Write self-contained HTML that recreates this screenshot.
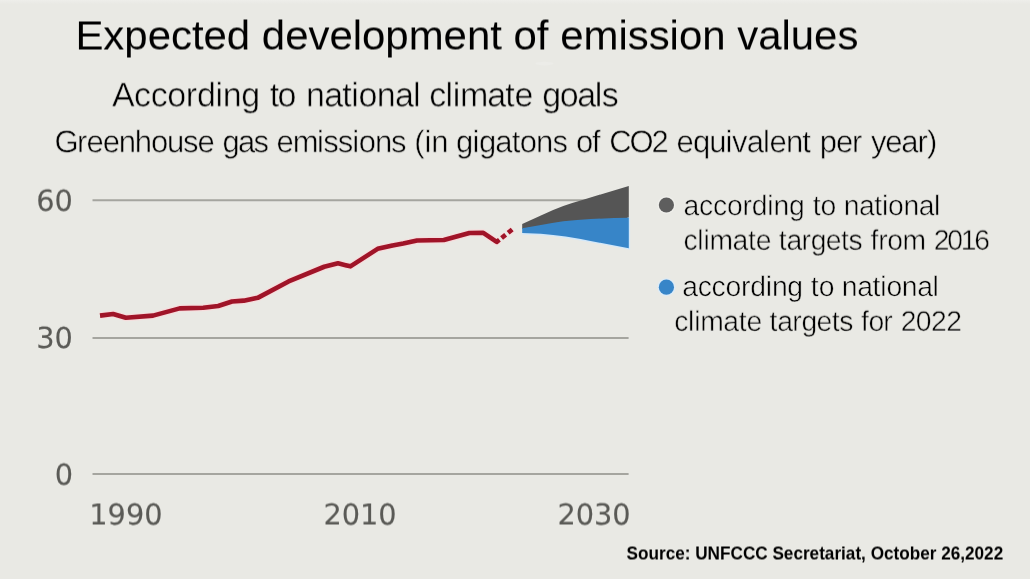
<!DOCTYPE html>
<html lang="en">
<head>
<meta charset="utf-8">
<title>Expected development of emission values</title>
<style>
  html, body { margin: 0; padding: 0; background: #e9e9e4; }
  body { width: 1030px; height: 579px; overflow: hidden; position: relative;
         font-family: "Liberation Sans", sans-serif; }
  svg { position: absolute; left: 0; top: 0; display: block; }
  text { font-family: "Liberation Sans", sans-serif; }
  .title { font-size: 41.3px; fill: #000; }
  .light { fill:#000; stroke:#e9e9e4; paint-order:fill stroke; text-rendering:geometricPrecision; }
  .sub { font-size: 34.0px; stroke-width: 0.5px; }
  .unit { font-size: 31.0px; stroke-width: 0.5px; }
  .leg { font-size: 28.3px; stroke-width: 0.5px; }
  .axis { font-family: "DejaVu Sans", sans-serif; font-size: 28.8px; fill: #5a5a56; stroke: #5a5a56; stroke-width: 0.12px; text-rendering: geometricPrecision; }
  .src { font-size: 17.9px; font-weight: 700; fill: #000; }
  .grid { stroke: #a5a59f; stroke-width: 2; }
</style>
</head>
<body>
<svg width="1030" height="579" viewBox="0 0 1030 579">
  <defs>
    <filter id="soft" filterUnits="userSpaceOnUse" x="0" y="0" width="1030" height="579" color-interpolation-filters="sRGB"><feGaussianBlur stdDeviation="0.6"/></filter>
    <filter id="s10" filterUnits="userSpaceOnUse" x="0" y="0" width="1030" height="579" color-interpolation-filters="sRGB"><feConvolveMatrix order="1 3" kernelMatrix="0 0.9 0.1" preserveAlpha="false"/></filter>
    <filter id="s20" filterUnits="userSpaceOnUse" x="0" y="0" width="1030" height="579" color-interpolation-filters="sRGB"><feConvolveMatrix order="1 3" kernelMatrix="0 0.8 0.2" preserveAlpha="false"/></filter>
    <filter id="s40" filterUnits="userSpaceOnUse" x="0" y="0" width="1030" height="579" color-interpolation-filters="sRGB"><feConvolveMatrix order="1 3" kernelMatrix="0 0.6 0.4" preserveAlpha="false"/></filter>
    <filter id="s50" filterUnits="userSpaceOnUse" x="0" y="0" width="1030" height="579" color-interpolation-filters="sRGB"><feConvolveMatrix order="1 3" kernelMatrix="0 0.5 0.5" preserveAlpha="false"/></filter>
    <filter id="s50b40" filterUnits="userSpaceOnUse" x="0" y="0" width="1030" height="579" color-interpolation-filters="sRGB"><feConvolveMatrix order="1 3" kernelMatrix="0 0.5 0.5" preserveAlpha="false"/><feGaussianBlur stdDeviation="0.4"/></filter>
    <filter id="s60b40" filterUnits="userSpaceOnUse" x="0" y="0" width="1030" height="579" color-interpolation-filters="sRGB"><feConvolveMatrix order="1 3" kernelMatrix="0 0.4 0.6" preserveAlpha="false"/><feGaussianBlur stdDeviation="0.4"/></filter>
    <filter id="s70" filterUnits="userSpaceOnUse" x="0" y="0" width="1030" height="579" color-interpolation-filters="sRGB"><feConvolveMatrix order="1 3" kernelMatrix="0 0.3 0.7" preserveAlpha="false"/></filter>
    <filter id="s70b40" filterUnits="userSpaceOnUse" x="0" y="0" width="1030" height="579" color-interpolation-filters="sRGB"><feConvolveMatrix order="1 3" kernelMatrix="0 0.3 0.7" preserveAlpha="false"/><feGaussianBlur stdDeviation="0.4"/></filter>
    <filter id="s80" filterUnits="userSpaceOnUse" x="0" y="0" width="1030" height="579" color-interpolation-filters="sRGB"><feConvolveMatrix order="1 3" kernelMatrix="0 0.2 0.8" preserveAlpha="false"/></filter>
    <filter id="s90b40" filterUnits="userSpaceOnUse" x="0" y="0" width="1030" height="579" color-interpolation-filters="sRGB"><feConvolveMatrix order="1 3" kernelMatrix="0 0.1 0.9" preserveAlpha="false"/><feGaussianBlur stdDeviation="0.4"/></filter>
    <linearGradient id="topband" x1="0" y1="0" x2="0" y2="1">
      <stop offset="0" stop-color="#eeeeea"/><stop offset="1" stop-color="#e9e9e4"/>
    </linearGradient>
  </defs>
  <rect width="1030" height="579" fill="#e9e9e4"/>
  <rect width="1030" height="4" fill="url(#topband)"/>

  <ellipse cx="544.5" cy="63.6" rx="9" ry="1.8" fill="#ecece8" filter="url(#soft)"/>

  <!-- headings -->
  <text class="title" x="75.4" y="49" textLength="783" lengthAdjust="spacingAndGlyphs" filter="url(#s50)">Expected development of emission values</text>
  <text class="light sub" x="111.9 134.08 150.72 167.35 185.85 196.93 215.43 222.82 241.33 260.25 269.75 277.59 296.51 306 324.14 342.29 351.34 358.6 376.74 394.89 413.03 420.61 429.25 445.55 452.79 460.02 487.19 505.32 514.38 533.3 542.35 559.82 577.28 594.75 601.73" y="106" filter="url(#s40)">According to national climate goals</text>
  <text class="light unit" x="54.45 76.95 86.57 102.67 118.75 134.85 150.93 167.01 183.11 197.57 214.82 222.6 238.03 253.47 268.98 276.6 292.72 316.88 323.31 337.81 352.31 358.76 374.89 391.01 406.53 414.35 424.54 431.35 448.6 456.1 472.43 478.96 495.28 511.63 519.78 536.11 552.45 567.97 576.1 592.08 600.71 609.25 629.58 651.5 668.75 676.6 692.91 709.22 725.55 732.07 746.74 763.06 769.58 785.89 802.22 810.84 819.85 835.91 851.97 862.31 870.9 885.32 901.35 917.39 927" y="152" filter="url(#s20)">Greenhouse gas emissions (in gigatons of CO2 equivalent per year)</text>

  <!-- chart -->
  <g filter="url(#soft)">
    <line class="grid" x1="92.5" y1="200.2" x2="600" y2="200.2"/>
    <line class="grid" x1="92.5" y1="338" x2="628.6" y2="338"/>
    <line class="grid" x1="92.5" y1="473.9" x2="628.6" y2="473.9"/>
    <path d="M522.2,224.1 L540.9,215.4 Q552,210 563.3,205.9 Q573,202.6 583.2,199.7 L603.1,193.7 L628.8,186.1 L628.8,219 L563.3,222 L522.2,229 Z" fill="#555555"/>
    <path d="M522.2,233.2 L540.9,233.9 Q553,234.8 565.8,236.6 Q578,238.6 590.6,240.9 L628.8,248.2 L628.8,217.6" fill="none" stroke="#d3e8fa" stroke-width="2.6"/>
    <path d="M522.2,228.2 L540.9,225 Q552,222.9 563.3,221.2 Q577,219.7 590.6,219 Q610,218.1 628.8,217.8 L628.8,248.2 L590.6,240.9 Q578,238.6 565.8,236.6 Q553,234.8 540.9,233.8 L522.2,233.1 Z" fill="#3785c8"/>
    <g transform="translate(0,0.15)">
      <polyline fill="none" stroke="#f6dcdc" stroke-width="7" stroke-linejoin="round" points="100,315.5 113.1,313.8 125.9,317.6 153,315.5 179.7,308.2 203.2,307.6 218.2,305.9 232,301.4 243.8,300.5 257.7,297.7 288.6,281.3 324.2,266.6 338,263.2 350.4,266.2 377.6,248.7 392.5,245.3 403.2,243.4 417,240.4 443.8,239.9 469.4,232.9 483.3,232.7 496.7,241.7 499.4,239.6"/>
      <line x1="501.6" y1="237.9" x2="513.5" y2="228.3" stroke="#f6dcdc" stroke-width="7" stroke-dasharray="5.6 2.8" stroke-dashoffset="0.2"/>
      <polyline fill="none" stroke="#a01428" stroke-width="4.6" stroke-linejoin="round" points="100,315.5 113.1,313.8 125.9,317.6 153,315.5 179.7,308.2 203.2,307.6 218.2,305.9 232,301.4 243.8,300.5 257.7,297.7 288.6,281.3 324.2,266.6 338,263.2 350.4,266.2 377.6,248.7 392.5,245.3 403.2,243.4 417,240.4 443.8,239.9 469.4,232.9 483.3,232.7 496.7,241.7 499.4,239.6"/>
      <line x1="501.6" y1="237.9" x2="513.5" y2="228.3" stroke="#a01428" stroke-width="4.6" stroke-dasharray="5.2 3.2"/>
    </g>
    <circle cx="666.4" cy="205" r="9" fill="#efefeb"/>
    <circle cx="666.4" cy="205" r="7.6" fill="#5e5e5e"/>
    <circle cx="666.4" cy="287.2" r="9" fill="#dcebf7"/>
    <circle cx="666.4" cy="287.2" r="7.6" fill="#3785c8"/>
  </g>

  <!-- axis labels -->
  <text class="axis" x="36.2" y="210" filter="url(#s70b40)">60</text>
  <text class="axis" x="36.2" y="347" filter="url(#s90b40)">30</text>
  <text class="axis" x="54.8" y="484" filter="url(#s60b40)">0</text>
  <text class="axis" x="89.3" y="524" filter="url(#s50b40)">1990</text>
  <text class="axis" x="323.4" y="524" filter="url(#s50b40)">2010</text>
  <text class="axis" x="557.4" y="524" filter="url(#s50b40)">2030</text>

  <!-- legend -->
  <text class="light leg" x="683.6 699.11 713.06 727.01 742.53 751.82 767.33 773.54 789.05 804.8 812.65 820.51 836.26 843.75 859.05 874.35 882 888.11 903.42 918.73 934.03" y="215" filter="url(#s10)">according to national</text>
  <text class="light leg" x="683.4 697.23 703.38 709.54 732.59 747.99 755.69 771.44 778.85 786.42 801.56 810.63 825.78 840.93 848.49 862.67 870.55 878.16 887.28 902.52 926.11 933.65 947.17 960.69 974.2" y="249" filter="url(#s70)">climate targets from 2016</text>
  <text class="light leg" x="682.2 697.67 711.57 725.49 740.96 750.22 765.69 771.88 787.35 803.1 810.75 818.81 834.56 841.85 857.22 872.59 880.27 886.4 901.79 917.16 932.53" y="296">according to national</text>
  <text class="light leg" x="674.2 688.02 694.15 700.3 723.32 738.7 746.39 762.14 769.55 777.13 792.3 801.38 816.55 831.72 839.29 853.47 861.05 868.41 883.14 892.58 900.65 915.82 930.99 946.15" y="330" filter="url(#s80)">climate targets for 2022</text>

  <!-- source -->
  <text class="src" x="626.6" y="559" textLength="376.6" lengthAdjust="spacingAndGlyphs" filter="url(#s50)">Source: UNFCCC Secretariat, October 26,2022</text>
</svg>
</body>
</html>
